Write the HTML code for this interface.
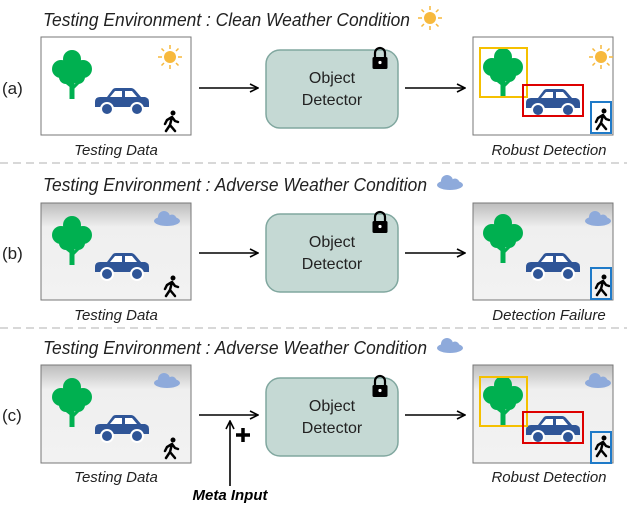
<!DOCTYPE html>
<html><head><style>body{margin:0;background:#fff}svg{display:block}text{font-family:"Liberation Sans",sans-serif}</style></head><body>
<svg width="627" height="509" viewBox="0 0 627 509" xmlns="http://www.w3.org/2000/svg">
<defs>
<linearGradient id="fog" x1="0" y1="0" x2="0" y2="1"><stop offset="0" stop-color="#bdbdbd"/><stop offset="0.25" stop-color="#efefef"/><stop offset="1" stop-color="#f2f2f2"/></linearGradient>
<g id="tree"><rect x="-2.5" y="10" width="5" height="24" fill="#00b050"/><path d="M0 22 L-10 14 M0 24 L10 14 M0 18 L0 8" stroke="#00b050" stroke-width="3"/>
<circle cx="0" cy="-6" r="9" fill="#00b050"/><circle cx="-11" cy="4" r="9" fill="#00b050"/><circle cx="11" cy="4" r="9" fill="#00b050"/><circle cx="-6" cy="12" r="7" fill="#00b050"/><circle cx="6" cy="12" r="7" fill="#00b050"/><circle cx="0" cy="4" r="9" fill="#00b050"/></g>
<g id="car"><path d="M0 14 Q0 9 5 9 L12 9 L18 1 Q19 0 21 0 L36 0 Q38 0 40 2 L46 9 L50 9 Q54 10 54 14 L54 19 L0 19 Z" fill="#2f5597"/><path d="M20 3 L27 3 L27 9 L15 9 Z M30 3 L37 3 L42 9 L30 9 Z" fill="#fff"/><circle cx="12" cy="21" r="6" fill="#2f5597" stroke="#fff" stroke-width="2"/><circle cx="42" cy="21" r="6" fill="#2f5597" stroke="#fff" stroke-width="2"/></g>
<g id="walk"><circle cx="2" cy="-8" r="2.5" fill="#000"/><path d="M1 -4 L-1 4 L-5 10 M-1 4 L4 10 M1 -4 L-4 -1 L-6 3 M1 -4 L4 0 L7 1" stroke="#000" stroke-width="2.5" fill="none" stroke-linecap="round"/></g>
<g id="sun"><circle r="6" fill="#f7b93d"/><g stroke="#f7b93d" stroke-width="1.5"><path d="M0 -8V-12M0 8V12M-8 0H-12M8 0H12M6 6L8.5 8.5M-6 -6L-8.5 -8.5M6 -6L8.5 -8.5M-6 6L-8.5 8.5"/></g></g>
<g id="cloud"><ellipse cx="0" cy="2" rx="13" ry="5" fill="#8eaadb"/><circle cx="-3" cy="-2" r="6" fill="#8eaadb"/><circle cx="5" cy="0" r="4.5" fill="#8eaadb"/></g>
<g id="lock"><path d="M-5 -2 V-6 A5 5 0 0 1 5 -6 V-2" stroke="#000" stroke-width="2.2" fill="none"/><rect x="-7.5" y="-2" width="15" height="12" rx="1.5" fill="#000"/><circle cx="0" cy="3.5" r="1.6" fill="#fff"/></g>
<g id="det"><rect x="0" y="0" width="132" height="78" rx="14" fill="#c5d9d4" stroke="#80a79f" stroke-width="1.5"/><text x="66" y="33" font-size="16" text-anchor="middle" fill="#222">Object</text><text x="66" y="55" font-size="16" text-anchor="middle" fill="#222">Detector</text></g>
<marker id="ah" markerWidth="10" markerHeight="10" refX="9" refY="5" orient="auto" markerUnits="userSpaceOnUse"><path d="M1 1 L9 5 L1 9" fill="none" stroke="#000" stroke-width="1.6"/></marker>
</defs>
<g font-style="italic" font-size="18" fill="#222">
<text x="43" y="26" textLength="367" lengthAdjust="spacingAndGlyphs">Testing Environment : Clean Weather Condition</text>
<text x="43" y="191" textLength="384" lengthAdjust="spacingAndGlyphs">Testing Environment : Adverse Weather Condition</text>
<text x="43" y="354" textLength="384" lengthAdjust="spacingAndGlyphs">Testing Environment : Adverse Weather Condition</text>
</g>
<use href="#sun" x="430" y="18"/><use href="#cloud" x="450" y="183"/><use href="#cloud" x="450" y="346"/>
<g font-size="17" fill="#222"><text x="2" y="94">(a)</text><text x="2" y="259">(b)</text><text x="2" y="421">(c)</text></g>
<g stroke="#ccc" stroke-width="1.5" stroke-dasharray="8 5"><line x1="0" y1="163" x2="627" y2="163"/><line x1="0" y1="328" x2="627" y2="328"/></g>
<rect x="41" y="37" width="150" height="98" fill="#fff" stroke="#777"/>
<use href="#tree" x="72" y="65"/><use href="#car" x="95" y="88"/><use href="#walk" x="171" y="121"/><use href="#sun" x="170" y="57"/>
<rect x="473" y="37" width="140" height="98" fill="#fff" stroke="#777"/>
<use href="#tree" x="503" y="63"/><use href="#car" x="526" y="89"/><use href="#walk" x="602" y="119"/><use href="#sun" x="601" y="57"/>
<rect x="480" y="48" width="47" height="49" fill="none" stroke="#f5c000" stroke-width="2"/>
<rect x="523" y="85" width="60" height="31" fill="none" stroke="#d00" stroke-width="2"/>
<rect x="591" y="102" width="20" height="31" fill="none" stroke="#1f7ac8" stroke-width="2"/>
<use href="#det" x="266" y="50"/><use href="#lock" x="380" y="59"/>
<line x1="199" y1="88" x2="258" y2="88" stroke="#000" stroke-width="1.6" marker-end="url(#ah)"/>
<line x1="405" y1="88" x2="465" y2="88" stroke="#000" stroke-width="1.6" marker-end="url(#ah)"/>
<rect x="41" y="203" width="150" height="97" fill="url(#fog)" stroke="#777"/>
<use href="#tree" x="72" y="231"/><use href="#car" x="95" y="253"/><use href="#walk" x="171" y="286"/><use href="#cloud" x="167" y="219"/>
<rect x="473" y="203" width="140" height="97" fill="url(#fog)" stroke="#777"/>
<use href="#tree" x="503" y="229"/><use href="#car" x="526" y="253"/><use href="#walk" x="602" y="285"/><use href="#cloud" x="598" y="219"/>
<rect x="591" y="268" width="20" height="31" fill="none" stroke="#1f7ac8" stroke-width="2"/>
<use href="#det" x="266" y="214"/><use href="#lock" x="380" y="223"/>
<line x1="199" y1="253" x2="258" y2="253" stroke="#000" stroke-width="1.6" marker-end="url(#ah)"/>
<line x1="405" y1="253" x2="465" y2="253" stroke="#000" stroke-width="1.6" marker-end="url(#ah)"/>
<rect x="41" y="365" width="150" height="98" fill="url(#fog)" stroke="#777"/>
<use href="#tree" x="72" y="393"/><use href="#car" x="95" y="415"/><use href="#walk" x="171" y="448"/><use href="#cloud" x="167" y="381"/>
<rect x="473" y="365" width="140" height="98" fill="url(#fog)" stroke="#777"/>
<use href="#tree" x="503" y="391"/><use href="#car" x="526" y="416"/><use href="#walk" x="602" y="446"/><use href="#cloud" x="598" y="381"/>
<rect x="480" y="377" width="47" height="49" fill="none" stroke="#f5c000" stroke-width="2"/>
<rect x="523" y="412" width="60" height="31" fill="none" stroke="#d00" stroke-width="2"/>
<rect x="591" y="432" width="20" height="31" fill="none" stroke="#1f7ac8" stroke-width="2"/>
<use href="#det" x="266" y="378"/><use href="#lock" x="380" y="387"/>
<line x1="199" y1="415" x2="258" y2="415" stroke="#000" stroke-width="1.6" marker-end="url(#ah)"/>
<line x1="405" y1="415" x2="465" y2="415" stroke="#000" stroke-width="1.6" marker-end="url(#ah)"/>
<line x1="230" y1="486" x2="230" y2="421" stroke="#000" stroke-width="1.6" marker-end="url(#ah)"/>
<path d="M243 428 V442 M236 435 H250" stroke="#000" stroke-width="3.5"/>
<text x="230" y="500" font-size="15" font-weight="bold" font-style="italic" text-anchor="middle" fill="#000">Meta Input</text>
<g font-style="italic" font-size="15" fill="#222" text-anchor="middle">
<text x="116" y="155">Testing Data</text><text x="549" y="155">Robust Detection</text>
<text x="116" y="320">Testing Data</text><text x="549" y="320">Detection Failure</text>
<text x="116" y="482">Testing Data</text><text x="549" y="482">Robust Detection</text>
</g>
</svg>
</body></html>
